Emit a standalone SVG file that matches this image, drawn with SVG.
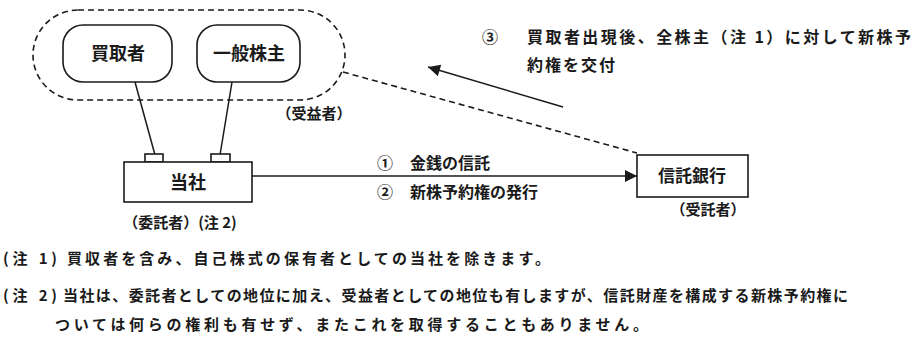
<svg xmlns="http://www.w3.org/2000/svg" width="915" height="339" viewBox="0 0 915 339">
<defs>
<style>
.t{font-family:"Noto Sans CJK JP","Noto Sans CJK SC",sans-serif;fill:#1a1a1a;font-weight:bold;}
.box{fill:#fff;stroke:#1a1a1a;stroke-width:1.6;}
.ln{stroke:#1a1a1a;stroke-width:1.5;fill:none;}
.dash{stroke:#1a1a1a;stroke-width:1.6;fill:none;stroke-dasharray:6 4;}
</style>
<marker id="ah2" viewBox="0 0 10 10" refX="10" refY="5" markerWidth="15" markerHeight="12" markerUnits="userSpaceOnUse" orient="auto">
<path d="M0,0 L10,5 L0,10 z" fill="#1a1a1a"/>
</marker>
</defs>
<rect width="915" height="339" fill="#fff"/>

<g id="connectors">
<line class="ln" x1="135" y1="82" x2="155" y2="155"/>
<line class="ln" x1="232" y1="82" x2="220" y2="155"/>
<line class="dash" x1="343" y1="72" x2="637" y2="153"/>
<line class="ln" x1="252" y1="176" x2="637" y2="176" marker-end="url(#ah2)"/>
<line class="ln" x1="563" y1="107" x2="428" y2="67" marker-end="url(#ah2)"/>
</g>

<g id="beneficiary-group">
<rect class="dash" x="33" y="10" width="312" height="90" rx="45" ry="45"/>
<text class="t" x="314" y="119" font-size="15" text-anchor="middle">（受益者）</text>
</g>

<g id="acquirer">
<rect class="box" x="63" y="25" width="109" height="57" rx="20" ry="20"/>
<text class="t" x="118" y="60" font-size="18" text-anchor="middle">買取者</text>
</g>

<g id="shareholders">
<rect class="box" x="197" y="25" width="103" height="57" rx="20" ry="20"/>
<text class="t" x="249" y="60" font-size="18" text-anchor="middle">一般株主</text>
</g>

<g id="company">
<rect class="box" x="145" y="154" width="18" height="8"/>
<rect class="box" x="211" y="154" width="19" height="8"/>
<rect class="box" x="124" y="162" width="128" height="40"/>
<text class="t" x="188" y="189" font-size="18" text-anchor="middle">当社</text>
<text class="t" x="180" y="228" font-size="15" text-anchor="middle">（委託者）(注 2)</text>
</g>

<g id="trust-bank">
<rect class="box" x="637" y="155" width="111" height="42"/>
<text class="t" x="692" y="182" font-size="17" text-anchor="middle">信託銀行</text>
<text class="t" x="708" y="215" font-size="15" text-anchor="middle">（受託者）</text>
</g>

<g id="labels">
<text class="t" x="377" y="169" font-size="16">①<tspan x="410">金銭の信託</tspan></text>
<text class="t" x="377" y="198" font-size="16">②<tspan x="410">新株予約権の発行</tspan></text>
<text class="t" x="482" y="43" font-size="16">③</text>
<text class="t" x="527" y="43" font-size="16" textLength="384" lengthAdjust="spacing">買取者出現後、全株主（注 1）に対して新株予</text>
<text class="t" x="527" y="71" font-size="16" letter-spacing="2">約権を交付</text>
</g>

<g id="notes">
<text class="t" x="3" y="264" font-size="15" textLength="54" lengthAdjust="spacing">(注 1)</text>
<text class="t" x="67" y="264" font-size="15" textLength="483" lengthAdjust="spacing">買収者を含み、自己株式の保有者としての当社を除きます。</text>
<text class="t" x="3" y="301" font-size="15" textLength="54" lengthAdjust="spacing">(注 2)</text>
<text class="t" x="63" y="301" font-size="15" textLength="785" lengthAdjust="spacing">当社は、委託者としての地位に加え、受益者としての地位も有しますが、信託財産を構成する新株予約権に</text>
<text class="t" x="55" y="330" font-size="15" textLength="593" lengthAdjust="spacing">ついては何らの権利も有せず、またこれを取得することもありません。</text>
</g>
</svg>
